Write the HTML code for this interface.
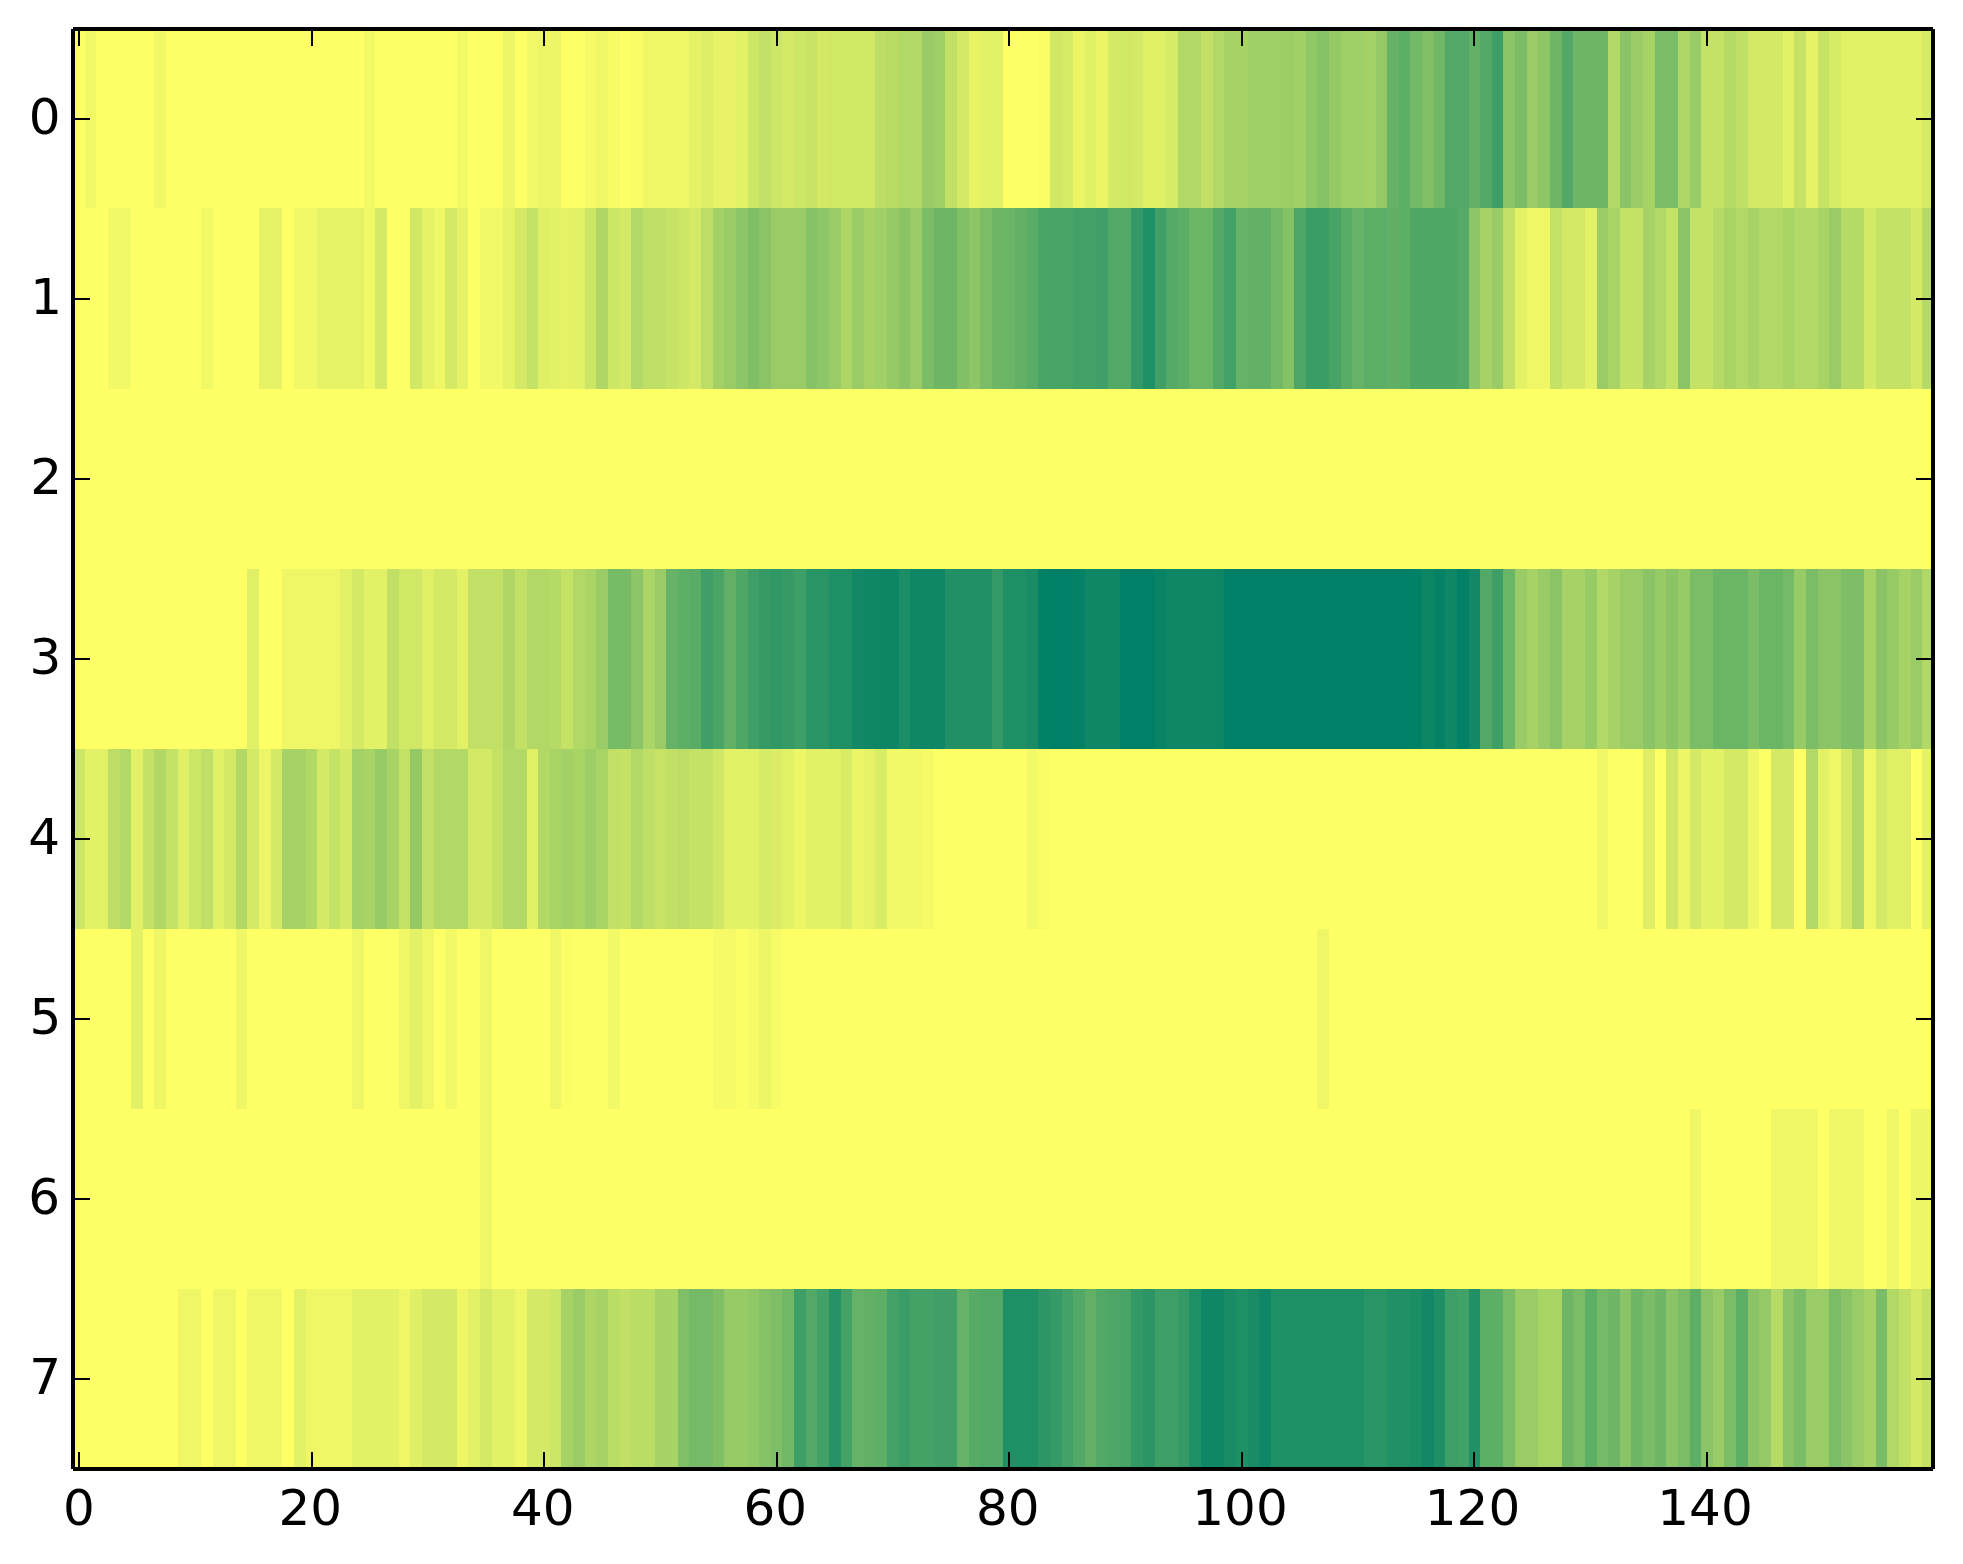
<!DOCTYPE html>
<html lang="en"><head><meta charset="utf-8"><title>heatmap</title>
<style>html,body{margin:0;padding:0;background:#fff}svg{display:block}text{font-family:"DejaVu Sans","Liberation Sans",sans-serif;font-size:50px;fill:#000}</style></head><body>
<svg width="1963" height="1564" viewBox="0 0 1963 1564">
<rect width="1963" height="1564" fill="#fff"/>
<g shape-rendering="crispEdges">
<rect x="73" y="29" width="1860" height="1440" fill="#ffff66"/>
<rect x="85" y="29" width="11" height="179" fill="#f2f966"/>
<rect x="154" y="29" width="12" height="179" fill="#f2f966"/>
<rect x="364" y="29" width="11" height="179" fill="#f2f966"/>
<rect x="457" y="29" width="11" height="179" fill="#f2f966"/>
<rect x="503" y="29" width="12" height="179" fill="#edf666"/>
<rect x="527" y="29" width="11" height="179" fill="#f2f966"/>
<rect x="538" y="29" width="23" height="179" fill="#edf666"/>
<rect x="585" y="29" width="11" height="179" fill="#f5fa66"/>
<rect x="596" y="29" width="12" height="179" fill="#f0f766"/>
<rect x="608" y="29" width="12" height="179" fill="#f7fb66"/>
<rect x="631" y="29" width="12" height="179" fill="#fafc66"/>
<rect x="643" y="29" width="46" height="179" fill="#f0f766"/>
<rect x="689" y="29" width="12" height="179" fill="#e6f266"/>
<rect x="701" y="29" width="12" height="179" fill="#deee66"/>
<rect x="713" y="29" width="23" height="179" fill="#e8f466"/>
<rect x="736" y="29" width="12" height="179" fill="#e3f166"/>
<rect x="748" y="29" width="11" height="179" fill="#cce666"/>
<rect x="759" y="29" width="12" height="179" fill="#c2e066"/>
<rect x="771" y="29" width="11" height="179" fill="#cce666"/>
<rect x="782" y="29" width="12" height="179" fill="#d4e966"/>
<rect x="794" y="29" width="12" height="179" fill="#cce666"/>
<rect x="806" y="29" width="11" height="179" fill="#c7e366"/>
<rect x="817" y="29" width="12" height="179" fill="#d4e966"/>
<rect x="829" y="29" width="46" height="179" fill="#d1e866"/>
<rect x="875" y="29" width="12" height="179" fill="#bdde66"/>
<rect x="887" y="29" width="12" height="179" fill="#b8db66"/>
<rect x="899" y="29" width="23" height="179" fill="#b2d966"/>
<rect x="922" y="29" width="12" height="179" fill="#99cc66"/>
<rect x="934" y="29" width="11" height="179" fill="#9ecf66"/>
<rect x="945" y="29" width="12" height="179" fill="#c2e066"/>
<rect x="957" y="29" width="12" height="179" fill="#d4e966"/>
<rect x="969" y="29" width="11" height="179" fill="#e8f466"/>
<rect x="980" y="29" width="23" height="179" fill="#e3f166"/>
<rect x="1038" y="29" width="12" height="179" fill="#fafc66"/>
<rect x="1050" y="29" width="12" height="179" fill="#d1e866"/>
<rect x="1062" y="29" width="11" height="179" fill="#d6eb66"/>
<rect x="1073" y="29" width="12" height="179" fill="#ebf566"/>
<rect x="1085" y="29" width="11" height="179" fill="#e0f066"/>
<rect x="1096" y="29" width="12" height="179" fill="#ebf566"/>
<rect x="1108" y="29" width="12" height="179" fill="#d4e966"/>
<rect x="1120" y="29" width="11" height="179" fill="#d1e866"/>
<rect x="1131" y="29" width="12" height="179" fill="#d4e966"/>
<rect x="1143" y="29" width="23" height="179" fill="#e0f066"/>
<rect x="1166" y="29" width="12" height="179" fill="#d6eb66"/>
<rect x="1178" y="29" width="23" height="179" fill="#b2d966"/>
<rect x="1201" y="29" width="12" height="179" fill="#c2e066"/>
<rect x="1213" y="29" width="11" height="179" fill="#b2d966"/>
<rect x="1224" y="29" width="24" height="179" fill="#a6d266"/>
<rect x="1248" y="29" width="35" height="179" fill="#9ecf66"/>
<rect x="1283" y="29" width="11" height="179" fill="#9ccd66"/>
<rect x="1294" y="29" width="12" height="179" fill="#a1d066"/>
<rect x="1306" y="29" width="11" height="179" fill="#91c866"/>
<rect x="1317" y="29" width="12" height="179" fill="#85c266"/>
<rect x="1329" y="29" width="12" height="179" fill="#94c966"/>
<rect x="1341" y="29" width="23" height="179" fill="#9ecf66"/>
<rect x="1364" y="29" width="12" height="179" fill="#a3d166"/>
<rect x="1376" y="29" width="11" height="179" fill="#94c966"/>
<rect x="1387" y="29" width="12" height="179" fill="#66b266"/>
<rect x="1399" y="29" width="11" height="179" fill="#5eaf66"/>
<rect x="1410" y="29" width="12" height="179" fill="#73b966"/>
<rect x="1422" y="29" width="12" height="179" fill="#80bf66"/>
<rect x="1434" y="29" width="11" height="179" fill="#70b866"/>
<rect x="1445" y="29" width="24" height="179" fill="#52a866"/>
<rect x="1469" y="29" width="11" height="179" fill="#61b066"/>
<rect x="1480" y="29" width="12" height="179" fill="#52a866"/>
<rect x="1492" y="29" width="11" height="179" fill="#3d9e66"/>
<rect x="1503" y="29" width="12" height="179" fill="#8ac466"/>
<rect x="1515" y="29" width="12" height="179" fill="#7abd66"/>
<rect x="1527" y="29" width="11" height="179" fill="#99cc66"/>
<rect x="1538" y="29" width="12" height="179" fill="#8cc666"/>
<rect x="1550" y="29" width="12" height="179" fill="#6eb666"/>
<rect x="1562" y="29" width="11" height="179" fill="#52a866"/>
<rect x="1573" y="29" width="35" height="179" fill="#6eb666"/>
<rect x="1608" y="29" width="12" height="179" fill="#b2d966"/>
<rect x="1620" y="29" width="11" height="179" fill="#8ac466"/>
<rect x="1631" y="29" width="12" height="179" fill="#99cc66"/>
<rect x="1643" y="29" width="12" height="179" fill="#a6d266"/>
<rect x="1655" y="29" width="23" height="179" fill="#7abd66"/>
<rect x="1678" y="29" width="12" height="179" fill="#add666"/>
<rect x="1690" y="29" width="11" height="179" fill="#99cc66"/>
<rect x="1701" y="29" width="23" height="179" fill="#c4e266"/>
<rect x="1724" y="29" width="12" height="179" fill="#b5da66"/>
<rect x="1736" y="29" width="12" height="179" fill="#bfdf66"/>
<rect x="1748" y="29" width="35" height="179" fill="#d4e966"/>
<rect x="1783" y="29" width="11" height="179" fill="#e3f166"/>
<rect x="1794" y="29" width="12" height="179" fill="#c7e366"/>
<rect x="1806" y="29" width="12" height="179" fill="#e6f266"/>
<rect x="1818" y="29" width="11" height="179" fill="#c7e366"/>
<rect x="1829" y="29" width="12" height="179" fill="#d6eb66"/>
<rect x="1841" y="29" width="81" height="179" fill="#e3f166"/>
<rect x="1922" y="29" width="12" height="179" fill="#d6eb66"/>
<rect x="108" y="208" width="23" height="181" fill="#f2f966"/>
<rect x="201" y="208" width="12" height="181" fill="#f2f966"/>
<rect x="259" y="208" width="23" height="181" fill="#e6f266"/>
<rect x="294" y="208" width="23" height="181" fill="#f2f966"/>
<rect x="317" y="208" width="47" height="181" fill="#e6f266"/>
<rect x="364" y="208" width="11" height="181" fill="#f2f966"/>
<rect x="375" y="208" width="12" height="181" fill="#d4e966"/>
<rect x="410" y="208" width="12" height="181" fill="#d1e866"/>
<rect x="422" y="208" width="12" height="181" fill="#e6f266"/>
<rect x="434" y="208" width="11" height="181" fill="#f0f766"/>
<rect x="445" y="208" width="12" height="181" fill="#d4e966"/>
<rect x="457" y="208" width="11" height="181" fill="#e6f266"/>
<rect x="480" y="208" width="23" height="181" fill="#f2f966"/>
<rect x="503" y="208" width="12" height="181" fill="#e6f266"/>
<rect x="515" y="208" width="12" height="181" fill="#d4e966"/>
<rect x="527" y="208" width="11" height="181" fill="#c4e266"/>
<rect x="538" y="208" width="12" height="181" fill="#e0f066"/>
<rect x="550" y="208" width="11" height="181" fill="#e3f166"/>
<rect x="561" y="208" width="12" height="181" fill="#e6f266"/>
<rect x="573" y="208" width="12" height="181" fill="#e3f166"/>
<rect x="585" y="208" width="11" height="181" fill="#cce666"/>
<rect x="596" y="208" width="12" height="181" fill="#b0d766"/>
<rect x="608" y="208" width="12" height="181" fill="#cce666"/>
<rect x="620" y="208" width="11" height="181" fill="#d4e966"/>
<rect x="631" y="208" width="12" height="181" fill="#b2d966"/>
<rect x="643" y="208" width="23" height="181" fill="#bfdf66"/>
<rect x="666" y="208" width="12" height="181" fill="#c7e366"/>
<rect x="678" y="208" width="11" height="181" fill="#cce666"/>
<rect x="689" y="208" width="12" height="181" fill="#d4e966"/>
<rect x="701" y="208" width="12" height="181" fill="#bdde66"/>
<rect x="713" y="208" width="11" height="181" fill="#a3d166"/>
<rect x="724" y="208" width="12" height="181" fill="#99cc66"/>
<rect x="736" y="208" width="12" height="181" fill="#8cc666"/>
<rect x="748" y="208" width="11" height="181" fill="#80bf66"/>
<rect x="759" y="208" width="12" height="181" fill="#8ac466"/>
<rect x="771" y="208" width="35" height="181" fill="#99cc66"/>
<rect x="806" y="208" width="11" height="181" fill="#87c366"/>
<rect x="817" y="208" width="12" height="181" fill="#8cc666"/>
<rect x="829" y="208" width="12" height="181" fill="#99cc66"/>
<rect x="841" y="208" width="11" height="181" fill="#add666"/>
<rect x="852" y="208" width="12" height="181" fill="#99cc66"/>
<rect x="864" y="208" width="11" height="181" fill="#a6d266"/>
<rect x="875" y="208" width="12" height="181" fill="#a1d066"/>
<rect x="887" y="208" width="12" height="181" fill="#94c966"/>
<rect x="899" y="208" width="11" height="181" fill="#8ac466"/>
<rect x="910" y="208" width="12" height="181" fill="#99cc66"/>
<rect x="922" y="208" width="12" height="181" fill="#7abd66"/>
<rect x="934" y="208" width="23" height="181" fill="#6eb666"/>
<rect x="957" y="208" width="12" height="181" fill="#80bf66"/>
<rect x="969" y="208" width="11" height="181" fill="#8cc666"/>
<rect x="980" y="208" width="12" height="181" fill="#7abd66"/>
<rect x="992" y="208" width="11" height="181" fill="#6eb666"/>
<rect x="1003" y="208" width="12" height="181" fill="#6bb566"/>
<rect x="1015" y="208" width="12" height="181" fill="#61b066"/>
<rect x="1027" y="208" width="11" height="181" fill="#59ac66"/>
<rect x="1038" y="208" width="12" height="181" fill="#4aa466"/>
<rect x="1050" y="208" width="23" height="181" fill="#47a366"/>
<rect x="1073" y="208" width="23" height="181" fill="#42a166"/>
<rect x="1096" y="208" width="12" height="181" fill="#409f66"/>
<rect x="1108" y="208" width="23" height="181" fill="#52a866"/>
<rect x="1131" y="208" width="12" height="181" fill="#339966"/>
<rect x="1143" y="208" width="12" height="181" fill="#1f8f66"/>
<rect x="1155" y="208" width="11" height="181" fill="#409f66"/>
<rect x="1166" y="208" width="12" height="181" fill="#54aa66"/>
<rect x="1178" y="208" width="11" height="181" fill="#5cad66"/>
<rect x="1189" y="208" width="24" height="181" fill="#6bb566"/>
<rect x="1213" y="208" width="11" height="181" fill="#52a866"/>
<rect x="1224" y="208" width="12" height="181" fill="#42a166"/>
<rect x="1236" y="208" width="12" height="181" fill="#66b266"/>
<rect x="1248" y="208" width="23" height="181" fill="#61b066"/>
<rect x="1271" y="208" width="12" height="181" fill="#73b966"/>
<rect x="1283" y="208" width="11" height="181" fill="#85c266"/>
<rect x="1294" y="208" width="12" height="181" fill="#4da666"/>
<rect x="1306" y="208" width="23" height="181" fill="#3b9d66"/>
<rect x="1329" y="208" width="12" height="181" fill="#47a366"/>
<rect x="1341" y="208" width="11" height="181" fill="#59ac66"/>
<rect x="1352" y="208" width="12" height="181" fill="#66b266"/>
<rect x="1364" y="208" width="23" height="181" fill="#5cad66"/>
<rect x="1387" y="208" width="12" height="181" fill="#61b066"/>
<rect x="1399" y="208" width="11" height="181" fill="#5eaf66"/>
<rect x="1410" y="208" width="47" height="181" fill="#4fa766"/>
<rect x="1457" y="208" width="12" height="181" fill="#54aa66"/>
<rect x="1469" y="208" width="11" height="181" fill="#8cc666"/>
<rect x="1480" y="208" width="12" height="181" fill="#a6d266"/>
<rect x="1492" y="208" width="11" height="181" fill="#99cc66"/>
<rect x="1503" y="208" width="12" height="181" fill="#c2e066"/>
<rect x="1515" y="208" width="12" height="181" fill="#e3f166"/>
<rect x="1527" y="208" width="23" height="181" fill="#f0f766"/>
<rect x="1550" y="208" width="12" height="181" fill="#c4e266"/>
<rect x="1562" y="208" width="23" height="181" fill="#d4e966"/>
<rect x="1585" y="208" width="12" height="181" fill="#e3f166"/>
<rect x="1597" y="208" width="11" height="181" fill="#99cc66"/>
<rect x="1608" y="208" width="12" height="181" fill="#a8d466"/>
<rect x="1620" y="208" width="23" height="181" fill="#c4e266"/>
<rect x="1643" y="208" width="12" height="181" fill="#a6d266"/>
<rect x="1655" y="208" width="11" height="181" fill="#b2d966"/>
<rect x="1666" y="208" width="12" height="181" fill="#c4e266"/>
<rect x="1678" y="208" width="12" height="181" fill="#8ac466"/>
<rect x="1690" y="208" width="23" height="181" fill="#c4e266"/>
<rect x="1713" y="208" width="11" height="181" fill="#b5da66"/>
<rect x="1724" y="208" width="12" height="181" fill="#a8d466"/>
<rect x="1736" y="208" width="12" height="181" fill="#b2d966"/>
<rect x="1748" y="208" width="11" height="181" fill="#a6d266"/>
<rect x="1759" y="208" width="24" height="181" fill="#b2d966"/>
<rect x="1783" y="208" width="11" height="181" fill="#a8d466"/>
<rect x="1794" y="208" width="24" height="181" fill="#b2d966"/>
<rect x="1818" y="208" width="11" height="181" fill="#a8d466"/>
<rect x="1829" y="208" width="12" height="181" fill="#99cc66"/>
<rect x="1841" y="208" width="23" height="181" fill="#b5da66"/>
<rect x="1864" y="208" width="12" height="181" fill="#d4e966"/>
<rect x="1876" y="208" width="35" height="181" fill="#c4e266"/>
<rect x="1911" y="208" width="11" height="181" fill="#d4e966"/>
<rect x="1922" y="208" width="12" height="181" fill="#b5da66"/>
<rect x="247" y="569" width="12" height="180" fill="#e0f066"/>
<rect x="282" y="569" width="58" height="180" fill="#f0f766"/>
<rect x="340" y="569" width="12" height="180" fill="#e3f166"/>
<rect x="352" y="569" width="12" height="180" fill="#d4e966"/>
<rect x="364" y="569" width="23" height="180" fill="#e3f166"/>
<rect x="387" y="569" width="12" height="180" fill="#c2e066"/>
<rect x="399" y="569" width="23" height="180" fill="#d1e866"/>
<rect x="422" y="569" width="12" height="180" fill="#e0f066"/>
<rect x="434" y="569" width="23" height="180" fill="#d4e966"/>
<rect x="457" y="569" width="11" height="180" fill="#e3f166"/>
<rect x="468" y="569" width="35" height="180" fill="#c2e066"/>
<rect x="503" y="569" width="12" height="180" fill="#b0d766"/>
<rect x="515" y="569" width="12" height="180" fill="#c2e066"/>
<rect x="527" y="569" width="23" height="180" fill="#b2d966"/>
<rect x="550" y="569" width="11" height="180" fill="#b5da66"/>
<rect x="561" y="569" width="12" height="180" fill="#c4e266"/>
<rect x="573" y="569" width="12" height="180" fill="#b2d966"/>
<rect x="585" y="569" width="11" height="180" fill="#abd566"/>
<rect x="596" y="569" width="12" height="180" fill="#99cc66"/>
<rect x="608" y="569" width="23" height="180" fill="#78bb66"/>
<rect x="631" y="569" width="12" height="180" fill="#8cc666"/>
<rect x="643" y="569" width="12" height="180" fill="#abd566"/>
<rect x="655" y="569" width="11" height="180" fill="#99cc66"/>
<rect x="666" y="569" width="12" height="180" fill="#66b266"/>
<rect x="678" y="569" width="11" height="180" fill="#5eaf66"/>
<rect x="689" y="569" width="12" height="180" fill="#59ac66"/>
<rect x="701" y="569" width="12" height="180" fill="#409f66"/>
<rect x="713" y="569" width="11" height="180" fill="#4aa466"/>
<rect x="724" y="569" width="12" height="180" fill="#61b066"/>
<rect x="736" y="569" width="12" height="180" fill="#4fa766"/>
<rect x="748" y="569" width="11" height="180" fill="#409f66"/>
<rect x="759" y="569" width="12" height="180" fill="#369a66"/>
<rect x="771" y="569" width="11" height="180" fill="#309866"/>
<rect x="782" y="569" width="12" height="180" fill="#369a66"/>
<rect x="794" y="569" width="12" height="180" fill="#3d9e66"/>
<rect x="806" y="569" width="23" height="180" fill="#299466"/>
<rect x="829" y="569" width="23" height="180" fill="#1f8f66"/>
<rect x="852" y="569" width="12" height="180" fill="#128866"/>
<rect x="864" y="569" width="11" height="180" fill="#0f8766"/>
<rect x="875" y="569" width="24" height="180" fill="#0d8666"/>
<rect x="899" y="569" width="11" height="180" fill="#1c8e66"/>
<rect x="910" y="569" width="35" height="180" fill="#0f8766"/>
<rect x="945" y="569" width="47" height="180" fill="#219066"/>
<rect x="992" y="569" width="11" height="180" fill="#339966"/>
<rect x="1003" y="569" width="24" height="180" fill="#1f8f66"/>
<rect x="1027" y="569" width="11" height="180" fill="#198c66"/>
<rect x="1038" y="569" width="12" height="180" fill="#038166"/>
<rect x="1050" y="569" width="23" height="180" fill="#008066"/>
<rect x="1073" y="569" width="12" height="180" fill="#058266"/>
<rect x="1085" y="569" width="35" height="180" fill="#0f8766"/>
<rect x="1120" y="569" width="35" height="180" fill="#008066"/>
<rect x="1155" y="569" width="11" height="180" fill="#088366"/>
<rect x="1166" y="569" width="47" height="180" fill="#0f8766"/>
<rect x="1213" y="569" width="11" height="180" fill="#0d8666"/>
<rect x="1224" y="569" width="186" height="180" fill="#008066"/>
<rect x="1410" y="569" width="12" height="180" fill="#038166"/>
<rect x="1422" y="569" width="12" height="180" fill="#0d8666"/>
<rect x="1434" y="569" width="11" height="180" fill="#058266"/>
<rect x="1445" y="569" width="12" height="180" fill="#0f8766"/>
<rect x="1457" y="569" width="12" height="180" fill="#038166"/>
<rect x="1469" y="569" width="11" height="180" fill="#128866"/>
<rect x="1480" y="569" width="12" height="180" fill="#52a866"/>
<rect x="1492" y="569" width="11" height="180" fill="#3d9e66"/>
<rect x="1503" y="569" width="12" height="180" fill="#6bb566"/>
<rect x="1515" y="569" width="12" height="180" fill="#99cc66"/>
<rect x="1527" y="569" width="11" height="180" fill="#a6d266"/>
<rect x="1538" y="569" width="12" height="180" fill="#99cc66"/>
<rect x="1550" y="569" width="12" height="180" fill="#8ac466"/>
<rect x="1562" y="569" width="23" height="180" fill="#a6d266"/>
<rect x="1585" y="569" width="12" height="180" fill="#96cb66"/>
<rect x="1597" y="569" width="11" height="180" fill="#b2d966"/>
<rect x="1608" y="569" width="12" height="180" fill="#a6d266"/>
<rect x="1620" y="569" width="23" height="180" fill="#99cc66"/>
<rect x="1643" y="569" width="12" height="180" fill="#8ac466"/>
<rect x="1655" y="569" width="11" height="180" fill="#96cb66"/>
<rect x="1666" y="569" width="12" height="180" fill="#8ac466"/>
<rect x="1678" y="569" width="12" height="180" fill="#96cb66"/>
<rect x="1690" y="569" width="23" height="180" fill="#7abd66"/>
<rect x="1713" y="569" width="35" height="180" fill="#6bb566"/>
<rect x="1748" y="569" width="11" height="180" fill="#7abd66"/>
<rect x="1759" y="569" width="24" height="180" fill="#6bb566"/>
<rect x="1783" y="569" width="11" height="180" fill="#75ba66"/>
<rect x="1794" y="569" width="12" height="180" fill="#96cb66"/>
<rect x="1806" y="569" width="12" height="180" fill="#7abd66"/>
<rect x="1818" y="569" width="23" height="180" fill="#8ac466"/>
<rect x="1841" y="569" width="23" height="180" fill="#7dbe66"/>
<rect x="1864" y="569" width="12" height="180" fill="#a6d266"/>
<rect x="1876" y="569" width="11" height="180" fill="#8ac466"/>
<rect x="1887" y="569" width="12" height="180" fill="#96cb66"/>
<rect x="1899" y="569" width="12" height="180" fill="#a6d266"/>
<rect x="1911" y="569" width="11" height="180" fill="#99cc66"/>
<rect x="1922" y="569" width="12" height="180" fill="#b2d966"/>
<rect x="73" y="749" width="12" height="180" fill="#cce666"/>
<rect x="85" y="749" width="23" height="180" fill="#e3f166"/>
<rect x="108" y="749" width="12" height="180" fill="#bdde66"/>
<rect x="120" y="749" width="11" height="180" fill="#b2d966"/>
<rect x="131" y="749" width="12" height="180" fill="#e3f166"/>
<rect x="143" y="749" width="11" height="180" fill="#c4e266"/>
<rect x="154" y="749" width="12" height="180" fill="#b2d966"/>
<rect x="166" y="749" width="12" height="180" fill="#c4e266"/>
<rect x="178" y="749" width="11" height="180" fill="#e0f066"/>
<rect x="189" y="749" width="12" height="180" fill="#cce666"/>
<rect x="201" y="749" width="12" height="180" fill="#bfdf66"/>
<rect x="213" y="749" width="11" height="180" fill="#e0f066"/>
<rect x="224" y="749" width="12" height="180" fill="#d4e966"/>
<rect x="236" y="749" width="11" height="180" fill="#b2d966"/>
<rect x="247" y="749" width="12" height="180" fill="#d4e966"/>
<rect x="259" y="749" width="12" height="180" fill="#edf666"/>
<rect x="271" y="749" width="11" height="180" fill="#d4e966"/>
<rect x="282" y="749" width="24" height="180" fill="#a6d266"/>
<rect x="306" y="749" width="11" height="180" fill="#b2d966"/>
<rect x="317" y="749" width="12" height="180" fill="#d4e966"/>
<rect x="329" y="749" width="11" height="180" fill="#c4e266"/>
<rect x="340" y="749" width="12" height="180" fill="#d4e966"/>
<rect x="352" y="749" width="12" height="180" fill="#a3d166"/>
<rect x="364" y="749" width="11" height="180" fill="#a8d466"/>
<rect x="375" y="749" width="12" height="180" fill="#96cb66"/>
<rect x="387" y="749" width="12" height="180" fill="#a8d466"/>
<rect x="399" y="749" width="11" height="180" fill="#c4e266"/>
<rect x="410" y="749" width="12" height="180" fill="#94c966"/>
<rect x="422" y="749" width="12" height="180" fill="#c2e066"/>
<rect x="434" y="749" width="34" height="180" fill="#b2d966"/>
<rect x="468" y="749" width="24" height="180" fill="#d4e966"/>
<rect x="492" y="749" width="11" height="180" fill="#c4e266"/>
<rect x="503" y="749" width="24" height="180" fill="#b2d966"/>
<rect x="527" y="749" width="11" height="180" fill="#e0f066"/>
<rect x="538" y="749" width="12" height="180" fill="#b2d966"/>
<rect x="550" y="749" width="11" height="180" fill="#a8d466"/>
<rect x="561" y="749" width="12" height="180" fill="#a3d166"/>
<rect x="573" y="749" width="12" height="180" fill="#a8d466"/>
<rect x="585" y="749" width="11" height="180" fill="#9ecf66"/>
<rect x="596" y="749" width="12" height="180" fill="#a8d466"/>
<rect x="608" y="749" width="12" height="180" fill="#c2e066"/>
<rect x="620" y="749" width="11" height="180" fill="#c4e266"/>
<rect x="631" y="749" width="12" height="180" fill="#b2d966"/>
<rect x="643" y="749" width="12" height="180" fill="#bfdf66"/>
<rect x="655" y="749" width="11" height="180" fill="#c7e366"/>
<rect x="666" y="749" width="12" height="180" fill="#c2e066"/>
<rect x="678" y="749" width="11" height="180" fill="#bdde66"/>
<rect x="689" y="749" width="24" height="180" fill="#c4e266"/>
<rect x="713" y="749" width="11" height="180" fill="#d1e866"/>
<rect x="724" y="749" width="35" height="180" fill="#e3f166"/>
<rect x="759" y="749" width="12" height="180" fill="#d6eb66"/>
<rect x="771" y="749" width="11" height="180" fill="#dbed66"/>
<rect x="782" y="749" width="12" height="180" fill="#e3f166"/>
<rect x="794" y="749" width="12" height="180" fill="#edf666"/>
<rect x="806" y="749" width="35" height="180" fill="#e3f166"/>
<rect x="841" y="749" width="11" height="180" fill="#d9ec66"/>
<rect x="852" y="749" width="12" height="180" fill="#ebf566"/>
<rect x="864" y="749" width="11" height="180" fill="#e6f266"/>
<rect x="875" y="749" width="12" height="180" fill="#d9ec66"/>
<rect x="887" y="749" width="35" height="180" fill="#f2f966"/>
<rect x="922" y="749" width="12" height="180" fill="#f5fa66"/>
<rect x="1027" y="749" width="11" height="180" fill="#f2f966"/>
<rect x="1038" y="749" width="12" height="180" fill="#fafc66"/>
<rect x="1597" y="749" width="11" height="180" fill="#f0f766"/>
<rect x="1643" y="749" width="12" height="180" fill="#e0f066"/>
<rect x="1666" y="749" width="12" height="180" fill="#d1e866"/>
<rect x="1678" y="749" width="12" height="180" fill="#edf666"/>
<rect x="1690" y="749" width="11" height="180" fill="#d4e966"/>
<rect x="1701" y="749" width="23" height="180" fill="#e3f166"/>
<rect x="1724" y="749" width="24" height="180" fill="#d4e966"/>
<rect x="1748" y="749" width="11" height="180" fill="#f0f766"/>
<rect x="1771" y="749" width="23" height="180" fill="#d4e966"/>
<rect x="1806" y="749" width="12" height="180" fill="#b2d966"/>
<rect x="1818" y="749" width="11" height="180" fill="#e3f166"/>
<rect x="1829" y="749" width="12" height="180" fill="#f0f766"/>
<rect x="1841" y="749" width="11" height="180" fill="#d4e966"/>
<rect x="1852" y="749" width="12" height="180" fill="#b2d966"/>
<rect x="1864" y="749" width="12" height="180" fill="#f0f766"/>
<rect x="1876" y="749" width="11" height="180" fill="#d4e966"/>
<rect x="1887" y="749" width="24" height="180" fill="#e0f066"/>
<rect x="1922" y="749" width="12" height="180" fill="#e6f266"/>
<rect x="131" y="929" width="12" height="180" fill="#e3f166"/>
<rect x="154" y="929" width="12" height="180" fill="#f0f766"/>
<rect x="236" y="929" width="11" height="180" fill="#f0f766"/>
<rect x="352" y="929" width="12" height="180" fill="#f0f766"/>
<rect x="399" y="929" width="11" height="180" fill="#f0f766"/>
<rect x="410" y="929" width="12" height="180" fill="#e3f166"/>
<rect x="422" y="929" width="12" height="180" fill="#f0f766"/>
<rect x="445" y="929" width="12" height="180" fill="#f2f966"/>
<rect x="480" y="929" width="12" height="180" fill="#f0f766"/>
<rect x="550" y="929" width="11" height="180" fill="#f0f766"/>
<rect x="561" y="929" width="12" height="180" fill="#fcfe66"/>
<rect x="608" y="929" width="12" height="180" fill="#f2f966"/>
<rect x="713" y="929" width="23" height="180" fill="#f5fa66"/>
<rect x="736" y="929" width="12" height="180" fill="#fcfe66"/>
<rect x="748" y="929" width="11" height="180" fill="#f5fa66"/>
<rect x="759" y="929" width="12" height="180" fill="#edf666"/>
<rect x="771" y="929" width="11" height="180" fill="#f7fb66"/>
<rect x="1317" y="929" width="12" height="180" fill="#f0f766"/>
<rect x="480" y="1109" width="12" height="180" fill="#f0f766"/>
<rect x="1690" y="1109" width="11" height="180" fill="#f0f766"/>
<rect x="1771" y="1109" width="47" height="180" fill="#f0f766"/>
<rect x="1829" y="1109" width="35" height="180" fill="#f0f766"/>
<rect x="1887" y="1109" width="12" height="180" fill="#f0f766"/>
<rect x="1911" y="1109" width="23" height="180" fill="#edf666"/>
<rect x="178" y="1289" width="23" height="180" fill="#f0f766"/>
<rect x="213" y="1289" width="23" height="180" fill="#f0f766"/>
<rect x="247" y="1289" width="35" height="180" fill="#f0f766"/>
<rect x="294" y="1289" width="12" height="180" fill="#e3f166"/>
<rect x="306" y="1289" width="46" height="180" fill="#f0f766"/>
<rect x="352" y="1289" width="47" height="180" fill="#e3f166"/>
<rect x="399" y="1289" width="11" height="180" fill="#f0f766"/>
<rect x="410" y="1289" width="12" height="180" fill="#e0f066"/>
<rect x="422" y="1289" width="35" height="180" fill="#d4e966"/>
<rect x="457" y="1289" width="11" height="180" fill="#f0f766"/>
<rect x="468" y="1289" width="12" height="180" fill="#e3f166"/>
<rect x="480" y="1289" width="12" height="180" fill="#d4e966"/>
<rect x="492" y="1289" width="23" height="180" fill="#e3f166"/>
<rect x="515" y="1289" width="12" height="180" fill="#f0f766"/>
<rect x="527" y="1289" width="23" height="180" fill="#d4e966"/>
<rect x="550" y="1289" width="11" height="180" fill="#cce666"/>
<rect x="561" y="1289" width="12" height="180" fill="#a6d266"/>
<rect x="573" y="1289" width="12" height="180" fill="#99cc66"/>
<rect x="585" y="1289" width="11" height="180" fill="#add666"/>
<rect x="596" y="1289" width="12" height="180" fill="#a6d266"/>
<rect x="608" y="1289" width="12" height="180" fill="#badd66"/>
<rect x="620" y="1289" width="11" height="180" fill="#c2e066"/>
<rect x="631" y="1289" width="24" height="180" fill="#badd66"/>
<rect x="655" y="1289" width="11" height="180" fill="#a6d266"/>
<rect x="666" y="1289" width="12" height="180" fill="#a8d466"/>
<rect x="678" y="1289" width="11" height="180" fill="#80bf66"/>
<rect x="689" y="1289" width="24" height="180" fill="#75ba66"/>
<rect x="713" y="1289" width="11" height="180" fill="#80bf66"/>
<rect x="724" y="1289" width="24" height="180" fill="#96cb66"/>
<rect x="748" y="1289" width="11" height="180" fill="#91c866"/>
<rect x="759" y="1289" width="12" height="180" fill="#85c266"/>
<rect x="771" y="1289" width="11" height="180" fill="#7dbe66"/>
<rect x="782" y="1289" width="12" height="180" fill="#70b866"/>
<rect x="794" y="1289" width="12" height="180" fill="#3d9e66"/>
<rect x="806" y="1289" width="11" height="180" fill="#52a866"/>
<rect x="817" y="1289" width="12" height="180" fill="#42a166"/>
<rect x="829" y="1289" width="12" height="180" fill="#269366"/>
<rect x="841" y="1289" width="11" height="180" fill="#45a266"/>
<rect x="852" y="1289" width="12" height="180" fill="#66b266"/>
<rect x="864" y="1289" width="11" height="180" fill="#61b066"/>
<rect x="875" y="1289" width="12" height="180" fill="#5eaf66"/>
<rect x="887" y="1289" width="12" height="180" fill="#42a166"/>
<rect x="899" y="1289" width="11" height="180" fill="#3b9d66"/>
<rect x="910" y="1289" width="24" height="180" fill="#45a266"/>
<rect x="934" y="1289" width="23" height="180" fill="#409f66"/>
<rect x="957" y="1289" width="12" height="180" fill="#66b266"/>
<rect x="969" y="1289" width="11" height="180" fill="#57ab66"/>
<rect x="980" y="1289" width="23" height="180" fill="#52a866"/>
<rect x="1003" y="1289" width="35" height="180" fill="#1f8f66"/>
<rect x="1038" y="1289" width="12" height="180" fill="#2e9666"/>
<rect x="1050" y="1289" width="12" height="180" fill="#369a66"/>
<rect x="1062" y="1289" width="11" height="180" fill="#42a166"/>
<rect x="1073" y="1289" width="12" height="180" fill="#52a866"/>
<rect x="1085" y="1289" width="11" height="180" fill="#61b066"/>
<rect x="1096" y="1289" width="12" height="180" fill="#52a866"/>
<rect x="1108" y="1289" width="12" height="180" fill="#4da666"/>
<rect x="1120" y="1289" width="11" height="180" fill="#47a366"/>
<rect x="1131" y="1289" width="12" height="180" fill="#339966"/>
<rect x="1143" y="1289" width="12" height="180" fill="#2b9566"/>
<rect x="1155" y="1289" width="23" height="180" fill="#3d9e66"/>
<rect x="1178" y="1289" width="11" height="180" fill="#339966"/>
<rect x="1189" y="1289" width="12" height="180" fill="#1f8f66"/>
<rect x="1201" y="1289" width="23" height="180" fill="#0f8766"/>
<rect x="1224" y="1289" width="12" height="180" fill="#198c66"/>
<rect x="1236" y="1289" width="12" height="180" fill="#1f8f66"/>
<rect x="1248" y="1289" width="11" height="180" fill="#198c66"/>
<rect x="1259" y="1289" width="12" height="180" fill="#0f8766"/>
<rect x="1271" y="1289" width="93" height="180" fill="#1f8f66"/>
<rect x="1364" y="1289" width="23" height="180" fill="#299466"/>
<rect x="1387" y="1289" width="23" height="180" fill="#219066"/>
<rect x="1410" y="1289" width="12" height="180" fill="#1c8e66"/>
<rect x="1422" y="1289" width="12" height="180" fill="#128866"/>
<rect x="1434" y="1289" width="11" height="180" fill="#1f8f66"/>
<rect x="1445" y="1289" width="12" height="180" fill="#3d9e66"/>
<rect x="1457" y="1289" width="12" height="180" fill="#42a166"/>
<rect x="1469" y="1289" width="11" height="180" fill="#219066"/>
<rect x="1480" y="1289" width="23" height="180" fill="#5eaf66"/>
<rect x="1503" y="1289" width="12" height="180" fill="#7abd66"/>
<rect x="1515" y="1289" width="23" height="180" fill="#99cc66"/>
<rect x="1538" y="1289" width="24" height="180" fill="#a8d466"/>
<rect x="1562" y="1289" width="11" height="180" fill="#6eb666"/>
<rect x="1573" y="1289" width="12" height="180" fill="#7abd66"/>
<rect x="1585" y="1289" width="12" height="180" fill="#5eaf66"/>
<rect x="1597" y="1289" width="11" height="180" fill="#75ba66"/>
<rect x="1608" y="1289" width="12" height="180" fill="#6eb666"/>
<rect x="1620" y="1289" width="11" height="180" fill="#8ac466"/>
<rect x="1631" y="1289" width="12" height="180" fill="#6eb666"/>
<rect x="1643" y="1289" width="12" height="180" fill="#7abd66"/>
<rect x="1655" y="1289" width="11" height="180" fill="#6eb666"/>
<rect x="1666" y="1289" width="12" height="180" fill="#8ac466"/>
<rect x="1678" y="1289" width="12" height="180" fill="#7abd66"/>
<rect x="1690" y="1289" width="11" height="180" fill="#5eaf66"/>
<rect x="1701" y="1289" width="12" height="180" fill="#8ac466"/>
<rect x="1713" y="1289" width="11" height="180" fill="#99cc66"/>
<rect x="1724" y="1289" width="12" height="180" fill="#7abd66"/>
<rect x="1736" y="1289" width="12" height="180" fill="#5eaf66"/>
<rect x="1748" y="1289" width="11" height="180" fill="#8ac466"/>
<rect x="1759" y="1289" width="12" height="180" fill="#94c966"/>
<rect x="1771" y="1289" width="12" height="180" fill="#b5da66"/>
<rect x="1783" y="1289" width="11" height="180" fill="#8ac466"/>
<rect x="1794" y="1289" width="12" height="180" fill="#7abd66"/>
<rect x="1806" y="1289" width="23" height="180" fill="#99cc66"/>
<rect x="1829" y="1289" width="12" height="180" fill="#7abd66"/>
<rect x="1841" y="1289" width="11" height="180" fill="#8ac466"/>
<rect x="1852" y="1289" width="12" height="180" fill="#99cc66"/>
<rect x="1864" y="1289" width="12" height="180" fill="#a6d266"/>
<rect x="1876" y="1289" width="11" height="180" fill="#7abd66"/>
<rect x="1887" y="1289" width="12" height="180" fill="#b2d966"/>
<rect x="1899" y="1289" width="12" height="180" fill="#c2e066"/>
<rect x="1911" y="1289" width="11" height="180" fill="#d4e966"/>
<rect x="1922" y="1289" width="12" height="180" fill="#c4e266"/>
</g>
<g stroke="#000" stroke-width="2" shape-rendering="crispEdges">
<line x1="79" y1="29" x2="79" y2="46"/><line x1="79" y1="1469" x2="79" y2="1452"/>
<line x1="312" y1="29" x2="312" y2="46"/><line x1="312" y1="1469" x2="312" y2="1452"/>
<line x1="544" y1="29" x2="544" y2="46"/><line x1="544" y1="1469" x2="544" y2="1452"/>
<line x1="777" y1="29" x2="777" y2="46"/><line x1="777" y1="1469" x2="777" y2="1452"/>
<line x1="1009" y1="29" x2="1009" y2="46"/><line x1="1009" y1="1469" x2="1009" y2="1452"/>
<line x1="1242" y1="29" x2="1242" y2="46"/><line x1="1242" y1="1469" x2="1242" y2="1452"/>
<line x1="1474" y1="29" x2="1474" y2="46"/><line x1="1474" y1="1469" x2="1474" y2="1452"/>
<line x1="1707" y1="29" x2="1707" y2="46"/><line x1="1707" y1="1469" x2="1707" y2="1452"/>
<line x1="73" y1="119" x2="90" y2="119"/><line x1="1933" y1="119" x2="1916" y2="119"/>
<line x1="73" y1="299" x2="90" y2="299"/><line x1="1933" y1="299" x2="1916" y2="299"/>
<line x1="73" y1="479" x2="90" y2="479"/><line x1="1933" y1="479" x2="1916" y2="479"/>
<line x1="73" y1="659" x2="90" y2="659"/><line x1="1933" y1="659" x2="1916" y2="659"/>
<line x1="73" y1="839" x2="90" y2="839"/><line x1="1933" y1="839" x2="1916" y2="839"/>
<line x1="73" y1="1019" x2="90" y2="1019"/><line x1="1933" y1="1019" x2="1916" y2="1019"/>
<line x1="73" y1="1199" x2="90" y2="1199"/><line x1="1933" y1="1199" x2="1916" y2="1199"/>
<line x1="73" y1="1379" x2="90" y2="1379"/><line x1="1933" y1="1379" x2="1916" y2="1379"/>
</g>
<g stroke="#000" stroke-width="4" shape-rendering="crispEdges">
<line x1="73" y1="29" x2="73" y2="1469"/>
<line x1="1933" y1="29" x2="1933" y2="1469"/>
<line x1="73" y1="29" x2="1933" y2="29"/>
<line x1="73" y1="1469" x2="1933" y2="1469"/>
</g>
<text x="60.5" y="134.0" text-anchor="end">0</text>
<text x="62.0" y="314.0" text-anchor="end">1</text>
<text x="62.0" y="494.0" text-anchor="end">2</text>
<text x="61.2" y="674.0" text-anchor="end">3</text>
<text x="60.0" y="854.0" text-anchor="end">4</text>
<text x="61.4" y="1034.0" text-anchor="end">5</text>
<text x="60.1" y="1214.0" text-anchor="end">6</text>
<text x="61.0" y="1394.0" text-anchor="end">7</text>
<text x="78.8" y="1525" text-anchor="middle">0</text>
<text x="310.3" y="1525" text-anchor="middle">20</text>
<text x="542.8" y="1525" text-anchor="middle">40</text>
<text x="775.3" y="1525" text-anchor="middle">60</text>
<text x="1007.8" y="1525" text-anchor="middle">80</text>
<text x="1240.0" y="1525" text-anchor="middle">100</text>
<text x="1472.5" y="1525" text-anchor="middle">120</text>
<text x="1705.0" y="1525" text-anchor="middle">140</text>
</svg></body></html>
